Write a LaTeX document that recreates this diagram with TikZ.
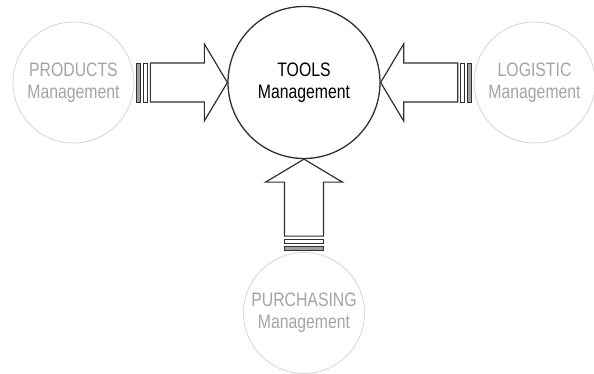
\documentclass[tikz,border=0pt]{standalone}
\usepackage{fontspec}
\setmainfont{Liberation Sans}
\newfontfamily\narrowsans[FakeStretch=0.81]{Liberation Sans}
\usetikzlibrary{positioning}

\definecolor{faded}{HTML}{A4A4A4}
\definecolor{rim}{HTML}{D4D4D4}
\definecolor{ink}{HTML}{303030}

% block arrow from a source anchor, turned by an angle, ending at a target anchor
\newcommand{\feed}[3]{%
  \begin{scope}[shift={(#1)}, rotate=#2]
    \draw[stripe, fill=gray!75] (2,-19.5) rectangle (6,19.5);
    \draw[stripe] (9,-19.5) rectangle (13,19.5);
    \draw[fatarrow] (16,-19.5) -- (70,-19.5) -- (70,-38.5) -- (#3)
      -- (70,38.5) -- (70,19.5) -- (16,19.5) -- cycle;
  \end{scope}}

\begin{document}
\begin{tikzpicture}[
  x=1pt, y=1pt,
  font=\narrowsans\fontsize{19.5}{22}\selectfont,
  node distance = 93pt,                    % gap between circle rims
  hub/.style     = {circle,
                    draw=ink,
                    line width=1.3pt,
                    align=center,
                    inner sep=0pt,
                    minimum size=152pt},
  outer/.style   = {circle,
                    draw=rim,
                    line width=0.8pt,
                    text=faded,
                    align=center,
                    inner sep=0pt,
                    minimum size=121pt},
  stripe/.style  = {draw=ink, line width=0.9pt, fill=white},
  fatarrow/.style = {draw=ink, line width=1.2pt, fill=white, line join=miter}
]

\useasboundingbox (0,0) rectangle (594,374);

\node[hub] (tools) at (304,291.5) {TOOLS\\Management};
\node[outer, left=of tools]  (products)   {PRODUCTS\\Management};
\node[outer, right=of tools] (logistic)   {LOGISTIC\\Management};
\node[outer, below=of tools] (purchasing) {PURCHASING\\Management};

\feed{products.east}{0}{tools.west}
\feed{logistic.west}{180}{tools.east}
\feed{purchasing.north}{90}{tools.south}

\end{tikzpicture}
\end{document}
